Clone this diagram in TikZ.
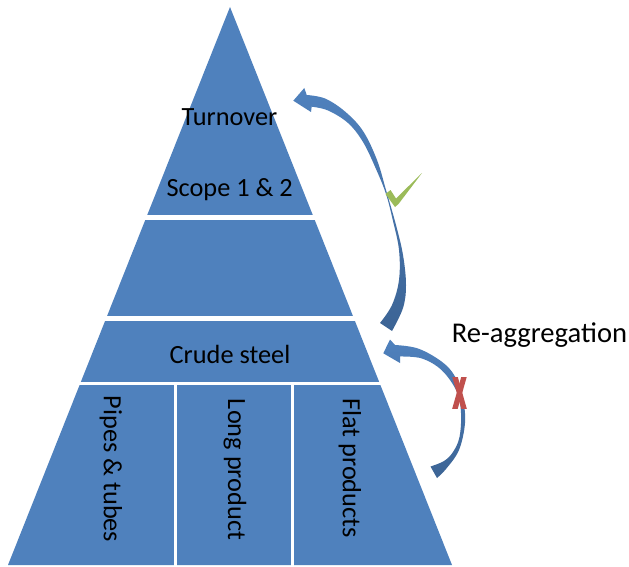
\documentclass[tikz,border=0pt]{standalone}
\usepackage{fontspec}
\setmainfont{Carlito}
\definecolor{pyrblue}{HTML}{4F81BD}
\definecolor{arrowdark}{HTML}{3C6495}
\definecolor{checkgreen}{HTML}{9BBB59}
\definecolor{crossred}{HTML}{C0504D}
\begin{document}
\begin{tikzpicture}[x=1pt,y=-1pt,
  label/.style={font=\fontsize{26.3}{30}\selectfont, inner sep=0pt, text=black},
  sidelabel/.style={font=\fontsize{28.6}{33}\selectfont, inner sep=0pt, text=black},
  bandgap/.style={white, line width=5pt},
  thingap/.style={white, line width=3pt},
  curvedarrow/.style={top color=pyrblue, bottom color=arrowdark},
  crossstroke/.style={crossred, line width=5.3pt}]
\fill[white] (0,0) rectangle (629,567);
\useasboundingbox (0,0) rectangle (629,567);

% pyramid body
\fill[pyrblue] (230,7) -- (452,565) -- (8,565) -- cycle;

% white separators between the levels
\draw[bandgap] (0,217.5) -- (470,217.5);
\draw[bandgap] (0,318.5) -- (470,318.5);
\draw[thingap] (0,383) -- (470,383);
\draw[thingap] (175.8,383) -- (175.8,567);
\draw[thingap] (292,383) -- (292,567);

% level labels
\node[label, anchor=base] (turnover) at (229.5,126) {Turnover};
\node[label, anchor=base] (scope) at (229.7,196) {Scope 1 \& 2};
\node[label, anchor=base] (crude) at (230,363) {Crude steel};
\node[label, rotate=-90] (pipes) at (111,469) {Pipes \& tubes};
\node[label, rotate=-90] (long) at (235,469.5) {Long product};
\node[label, rotate=-90] (flat) at (350,468) {Flat products};
\node[sidelabel, anchor=base] (reagg) at (539.5,342) {Re-aggregation};

% curved arrow from crude steel up to the top level
\shade[curvedarrow] (293.3,100.7) -- (304.3,88) -- (306.7,95)
  -- plot[smooth, tension=0.6] coordinates {(306.7,95) (325,98.5) (345,111.5) (363,131) (377,160) (386,190) (396,225) (403,255) (406,285) (403,308) (392,331)}
  -- plot[smooth, tension=0.6] coordinates {(380,323) (392,305) (399,280) (399,250) (393,221) (386,194) (376,169) (363,142) (348,123) (328,110.5) (311.7,106.7)}
  -- (311,112) -- cycle;

% curved arrow from the products up to crude steel
\shade[curvedarrow] (383.3,353.3) -- (390,339.5) -- (395,345)
  -- plot[smooth, tension=0.6] coordinates {(395,345) (418,348.5) (441.5,361.5) (455,376.5) (463,400) (465,423) (459,450) (446,469) (437,478)}
  -- plot[smooth, tension=0.6] coordinates {(430.5,466.5) (444,461) (453,452) (459.5,437) (461,413) (457,392) (442,370.5) (422,358.5) (400,356.5)}
  -- (400,363) -- cycle;

% tick mark
\fill[checkgreen] (385.5,194) -- (390.5,190) -- (396,198.5) -- (422,173) -- (398.5,204) -- (395,207) -- cycle;

% cross mark
\begin{scope}
  \clip (448,377.5) rectangle (471,408.5);
  \draw[crossstroke] (453.9,373) -- (465.1,412.5);
  \draw[crossstroke] (465.1,373) -- (453.9,412.5);
\end{scope}
\end{tikzpicture}
\end{document}
